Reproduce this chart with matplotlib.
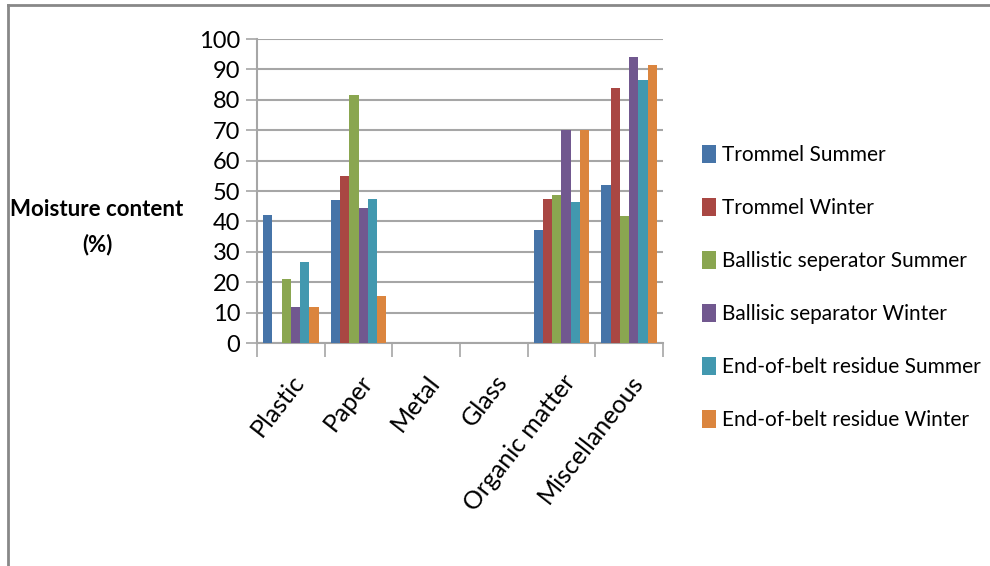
import numpy as np
import matplotlib
matplotlib.use("Agg")
import matplotlib.pyplot as plt
from matplotlib.patches import Patch
from matplotlib.lines import Line2D

categories = ["Plastic", "Paper", "Metal", "Glass", "Organic matter", "Miscellaneous"]
series_names = [
    "Trommel Summer",
    "Trommel Winter",
    "Ballistic seperator Summer",
    "Ballisic separator Winter",
    "End-of-belt residue Summer",
    "End-of-belt residue Winter",
]
trommel_summer = [42, 47, 0, 0, 37.2, 52]
trommel_winter = [0, 55, 0, 0, 47.5, 83.8]
ballistic_summer = [21, 81.5, 0, 0, 48.6, 41.8]
ballistic_winter = [12, 44.5, 0, 0, 70, 94.2]
residue_summer = [26.5, 47.5, 0, 0, 46.5, 86.5]
residue_winter = [12, 15.5, 0, 0, 70, 91.3]
series_values = [trommel_summer, trommel_winter, ballistic_summer,
                 ballistic_winter, residue_summer, residue_winter]
colors = ["#4674A8", "#A94743", "#8AA650", "#71588F", "#4298AF", "#DB853E"]
yticks = list(range(0, 101, 10))

plt.rcParams["font.family"] = ["Lato", "DejaVu Sans"]

fig = plt.figure(figsize=(9.9, 5.66), dpi=100)
ax = fig.add_axes([257 / 990, 1 - 343 / 566, 406 / 990, 304 / 566])

n = len(series_values)
gap = 1.27
w = 1.0 / (n + gap)
x = np.arange(len(categories))
for i, (vals, c) in enumerate(zip(series_values, colors)):
    offs = -0.5 + gap * w / 2 + (i + 0.5) * w
    ax.bar(x + offs, vals, width=w, color=c, edgecolor="none", zorder=3)

ax.set_xlim(-0.5, len(categories) - 0.5)
ax.set_ylim(0, 100)
ax.set_yticks(yticks)
ax.set_yticklabels([str(t) for t in yticks], fontsize=17)
ax.yaxis.grid(True, color="#a6a6a6", linewidth=1.5, zorder=0)
ax.tick_params(axis="y", length=8, width=1.2, color="#a6a6a6", pad=4)

# category boundary ticks
ax.set_xticks(np.arange(len(categories) + 1) - 0.5)
ax.set_xticklabels([])
ax.tick_params(axis="x", length=10, width=1.2, color="#a6a6a6")
ax.set_xticks(x, minor=True)
ax.set_xticklabels(categories, minor=True, rotation=52, ha="right",
                   rotation_mode="anchor", fontsize=18)
ax.tick_params(axis="x", which="minor", length=0, pad=20)

for s in ["top", "right"]:
    ax.spines[s].set_visible(False)
for s in ["left", "bottom"]:
    ax.spines[s].set_color("#a6a6a6")
    ax.spines[s].set_linewidth(1.5)

fig.text(97 / 990, 1 - 209 / 566, "Moisture content", ha="center", va="center",
         fontsize=16, fontweight="bold")
fig.text(97 / 990, 1 - 245 / 566, "(%)", ha="center", va="center",
         fontsize=16, fontweight="bold")

handles = [Patch(facecolor=c, edgecolor="none") for c in colors]
fig.legend(handles, series_names, loc="upper left",
           bbox_to_anchor=(694 / 990, 1 - 137 / 566), frameon=False,
           fontsize=15, handlelength=0.65, handleheight=0.95,
           handletextpad=0.3, labelspacing=1.57, borderaxespad=0)

# outer frame
fig.add_artist(Line2D([8 / 990, 8 / 990], [0, 1 - 5 / 566], transform=fig.transFigure,
                      color="#888888", linewidth=2))
fig.add_artist(Line2D([8 / 990, 1], [1 - 5 / 566, 1 - 5 / 566], transform=fig.transFigure,
                      color="#888888", linewidth=2))

fig.savefig("out.png", dpi=100)
